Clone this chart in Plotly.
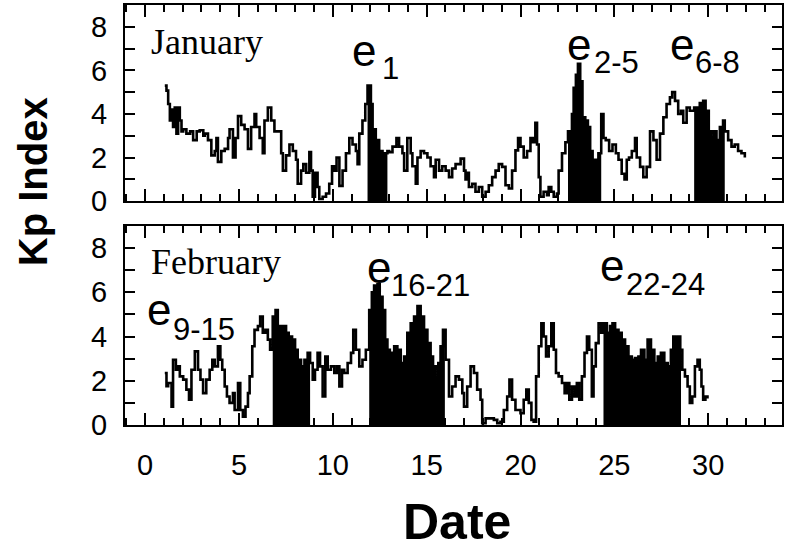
import plotly.graph_objects as go

# ---------------- data ----------------
jan_day = [1.05, 1.14, 1.23, 1.32, 1.41, 1.49, 1.58, 1.67, 1.76, 1.85, 1.94, 2.03, 2.2, 2.4, 2.56,
           2.75, 2.91, 3.1, 3.18, 3.35, 3.53, 3.71, 3.8, 3.88, 4.06, 4.24, 4.42, 4.5, 4.68, 4.82,
           4.95, 5.12, 5.3, 5.48, 5.65, 5.83, 5.92, 6.1, 6.27, 6.36, 6.54, 6.72, 6.89, 7.07, 7.25,
           7.34, 7.51, 7.69, 7.87, 8.04, 8.13, 8.31, 8.43, 8.58, 8.75, 8.84, 8.93, 9.05, 9.19, 9.28,
           9.46, 9.64, 9.81, 9.96, 10.08, 10.2, 10.35, 10.52, 10.7, 10.88, 11.05, 11.23, 11.32, 11.41,
           11.58, 11.73, 11.85, 12.03, 12.12, 12.29, 12.47, 12.65, 12.73, 12.91, 13.0, 13.18, 13.39,
           13.53, 13.71, 13.8, 13.97, 14.15, 14.24, 14.42, 14.51, 14.68, 14.86, 15.04, 15.21, 15.39,
           15.48, 15.66, 15.83, 16.01, 16.19, 16.36, 16.54, 16.81, 16.99, 17.07, 17.16, 17.25, 17.43,
           17.6, 17.78, 17.96, 18.14, 18.31, 18.49, 18.67, 18.84, 19.02, 19.2, 19.38, 19.55, 19.73,
           19.87, 20.0, 20.17, 20.35, 20.53, 20.65, 20.79, 20.88, 20.97, 21.06, 21.23, 21.41, 21.5,
           21.64, 21.77, 21.94, 22.03, 22.21, 22.39, 22.53, 22.74, 22.83, 22.95, 23.06, 23.18, 23.3,
           23.45, 23.59, 23.71, 23.84, 23.98, 24.15, 24.3, 24.42, 24.54, 24.72, 24.9, 25.08, 25.22,
           25.39, 25.54, 25.66, 25.78, 25.93, 26.1, 26.19, 26.37, 26.54, 26.72, 26.9, 27.08, 27.25,
           27.43, 27.61, 27.78, 27.96, 28.08, 28.23, 28.4, 28.55, 28.67, 28.85, 29.02, 29.25, 29.38,
           29.55, 29.73, 29.86, 30.03, 30.17, 30.31, 30.44, 30.62, 30.79, 30.88, 31.06, 31.24, 31.41,
           31.59, 31.77, 31.95]
jan_kp = [5.3, 5.07, 4.46, 3.7, 4.2, 3.4, 4.3, 3.1, 4.3, 3.7, 3.2, 3.3, 3.1, 3.2, 2.8,
          3.2, 3.25, 3.0, 3.1, 2.8, 2.1, 2.3, 2.9, 1.8, 2.3, 2.4, 2.9, 3.3, 2.0, 2.9,
          3.9, 3.5, 3.3, 2.4, 3.4, 4.0, 3.4, 2.9, 2.2, 3.7, 4.3, 3.7, 3.2, 3.2, 2.2,
          1.4, 2.1, 2.6, 2.3, 1.9, 0.8, 1.4, 1.7, 1.3, 2.25, 1.4, 0.2, 1.3, 0.65, 0.1,
          0.2, 0.35, 0.8, 1.6, 1.4, 2.0, 0.7, 1.4, 2.2, 2.9, 2.6, 2.3, 1.7, 3.1,
          3.7, 4.46, 5.3, 4.46, 3.3, 2.8, 2.3, 1.4, 2.2, 2.3, 2.25, 2.5, 2.9,
          2.5, 2.2, 1.4, 2.9, 2.2, 1.6, 0.8, 2.0, 2.3, 2.2, 2.0, 1.6, 1.1,
          1.9, 1.4, 1.6, 1.4, 1.1, 1.5, 1.7, 1.95, 1.4, 1.0, 1.3, 0.65, 0.8,
          0.43, 0.65, 0.2, 0.43, 0.73, 1.1, 1.4, 1.7, 1.57, 0.73, 0.58, 1.4, 2.33,
          2.9, 2.5, 2.0, 2.3, 2.9, 2.7, 3.6, 2.6, 1.1, 0.2, 0.43, 0.27, 0.65,
          0.43, 0.2, 0.35, 1.4, 2.2, 2.7, 3.2, 4.0, 5.2, 5.8, 6.3, 5.5, 3.85,
          3.7, 3.4, 2.3, 1.4, 1.9, 2.2, 4.0, 2.9, 2.8, 2.3, 2.6, 2.2, 1.9,
          1.26, 1.0, 1.9, 2.0, 2.3, 2.9, 2.0, 1.57, 1.1, 1.57, 3.2, 2.8, 1.9,
          3.1, 3.85, 4.46, 4.76, 5.0, 4.6, 4.0, 4.15, 3.6, 4.3, 4.15, 4.3, 4.3,
          4.5, 4.6, 4.15, 3.2, 2.9, 3.2, 2.8, 3.4, 3.7, 3.2, 2.8, 2.5, 2.6,
          2.3, 2.2, 2.0]

feb_day = [1.05, 1.14, 1.23, 1.41, 1.49, 1.64, 1.76, 1.85, 2.03, 2.2, 2.34, 2.47, 2.65, 2.82, 2.95,
           3.09, 3.26, 3.44, 3.58, 3.71, 3.88, 4.01, 4.11, 4.24, 4.36, 4.5, 4.68, 4.77, 4.95, 5.07,
           5.21, 5.35, 5.48, 5.57, 5.71, 5.83, 6.01, 6.13, 6.27, 6.41, 6.54, 6.66, 6.8, 6.95, 7.07,
           7.25, 7.37, 7.51, 7.65, 7.83, 7.99, 8.13, 8.31, 8.49, 8.66, 8.79, 8.93, 9.05, 9.19, 9.32,
           9.46, 9.6, 9.73, 9.9, 10.08, 10.22, 10.35, 10.49, 10.61, 10.79, 10.97, 11.09, 11.23, 11.41,
           11.58, 11.76, 11.94, 12.08, 12.2, 12.38, 12.5, 12.65, 12.79, 12.91, 13.04, 13.14, 13.27,
           13.44, 13.62, 13.8, 13.97, 14.15, 14.33, 14.51, 14.68, 14.86, 15.04, 15.21, 15.34, 15.48,
           15.62, 15.74, 15.87, 16.01, 16.19, 16.36, 16.54, 16.72, 16.9, 16.99, 17.16, 17.34, 17.52,
           17.69, 17.87, 17.96, 18.14, 18.4, 18.58, 18.76, 18.93, 19.11, 19.29, 19.41, 19.55, 19.73,
           20.0, 20.17, 20.31, 20.44, 20.58, 20.7, 20.83, 20.97, 21.11, 21.23, 21.36, 21.5, 21.64,
           21.77, 21.89, 22.03, 22.21, 22.35, 22.47, 22.6, 22.74, 22.88, 23.0, 23.13, 23.27, 23.41,
           23.54, 23.66, 23.8, 23.89, 24.01, 24.16, 24.3, 24.42, 24.6, 24.77, 24.9, 25.04, 25.22,
           25.39, 25.57, 25.75, 25.93, 26.1, 26.28, 26.42, 26.6, 26.77, 26.95, 27.13, 27.31, 27.48,
           27.66, 27.84, 28.01, 28.14, 28.26, 28.4, 28.51, 28.62, 28.76, 28.9, 29.02, 29.15, 29.29,
           29.43, 29.55, 29.64, 29.73, 29.85, 29.96]
feb_kp = [2.35, 1.75, 1.9, 0.83, 2.95, 2.5, 2.65, 2.2, 2.05, 1.6, 1.14, 2.5, 3.33, 2.5, 2.05,
          1.44, 2.05, 2.5, 2.95, 2.65, 3.56, 2.95, 2.5, 1.74, 1.29, 1.0, 1.44, 0.68, 1.9, 0.68,
          0.38, 0.83, 1.44, 2.2, 3.56, 4.3, 4.47, 4.9, 4.17, 4.3, 3.86, 3.4, 4.9, 5.2, 4.47,
          4.17, 4.47, 4.17, 4.0, 3.86, 3.4, 2.95, 2.65, 2.95, 3.26, 2.8, 2.05, 2.5, 3.26, 2.65,
          1.29, 3.1, 2.5, 2.65, 2.35, 2.65, 1.74, 2.5, 2.35, 2.8, 3.26, 4.3, 3.4, 2.65,
          2.95, 3.4, 5.2, 6.0, 6.3, 6.36, 5.8, 5.2, 3.86, 3.4, 2.65, 3.26, 3.56,
          3.4, 2.8, 3.1, 4.17, 4.6, 4.9, 5.38, 4.9, 4.3, 3.7, 3.1, 2.65, 2.05,
          2.8, 3.56, 4.3, 2.95, 1.29, 1.74, 2.2, 2.05, 1.44, 0.83, 1.74, 2.65, 2.35,
          1.6, 1.14, 0.08, 0.3, 0.3, 0.23, 0.08, 0.15, 0.68, 1.29, 2.05, 1.14, 0.68,
          0.53, 1.14, 1.6, 1.0, 0.23, 0.15, 2.2, 3.56, 4.6, 4.0, 3.1, 3.56, 4.6,
          3.4, 2.35, 2.2, 1.9, 1.44, 1.9, 1.14, 1.74, 1.29, 1.9, 1.14, 2.2, 3.26,
          4.0, 3.4, 1.29, 2.65, 3.7, 4.6, 4.17, 4.6, 4.17, 4.47, 4.6, 4.3, 4.17,
          3.86, 3.56, 3.1, 2.95, 3.03, 3.1, 3.4, 2.95, 3.86, 3.4, 2.8, 3.1, 3.26,
          2.8, 2.65, 3.4, 4.0, 3.4, 4.0, 3.4, 2.5, 2.2, 1.74, 1.0, 1.29, 2.65,
          2.95, 2.5, 1.74, 1.14, 1.29, 1.2]

jan_event_start = [11.85, 22.53, 29.25]
jan_event_end = [12.91, 24.3, 30.88]
feb_event_start = [6.8, 11.94, 24.42]
feb_event_end = [8.79, 15.97, 28.55]

x_tick_vals = [0, 5, 10, 15, 20, 25, 30]
y_tick_vals = [0, 2, 4, 6, 8]


def step_value(days, kp, t):
    val = kp[0]
    for d, k in zip(days, kp):
        if d <= t + 1e-9:
            val = k
    return val


def event_fill(days, kp, start, end):
    xs, ys = [start], [step_value(days, kp, start)]
    for d, k in zip(days, kp):
        if start + 1e-9 < d < end - 1e-9:
            xs.append(d)
            ys.append(k)
    xs.append(end)
    ys.append(ys[-1])
    return xs, ys


fig = go.Figure()

for days, kp, starts, ends, xa, ya in [
    (jan_day, jan_kp, jan_event_start, jan_event_end, "x", "y"),
    (feb_day, feb_kp, feb_event_start, feb_event_end, "x2", "y2"),
]:
    for s, e in zip(starts, ends):
        xs, ys = event_fill(days, kp, s, e)
        fig.add_trace(go.Scatter(x=xs, y=ys, mode="lines", line=dict(color="black", width=1, shape="hv"),
                                 fill="tozeroy", fillcolor="black", xaxis=xa, yaxis=ya,
                                 showlegend=False, hoverinfo="skip"))
    fig.add_trace(go.Scatter(x=days, y=kp, mode="lines", line=dict(color="black", width=2.6, shape="hv"),
                             xaxis=xa, yaxis=ya, showlegend=False))

tickfont = dict(family="Liberation Sans, Arial, sans-serif", size=29, color="black")
xcommon = dict(range=[-1.07, 33.93], showline=True, linecolor="black", linewidth=2, mirror="allticks",
               ticks="inside", ticklen=12, tickwidth=2, tickcolor="black", tickvals=x_tick_vals,
               minor=dict(dtick=1, tick0=0, ticks="inside", ticklen=7, tickwidth=1.5, tickcolor="black"),
               showgrid=False, zeroline=False, tickfont=tickfont)
ycommon = dict(range=[0, 9], showline=True, linecolor="black", linewidth=2, mirror="allticks",
               ticks="inside", ticklen=10, tickwidth=2, tickcolor="black", tickvals=y_tick_vals,
               minor=dict(dtick=1, tick0=0, ticks="inside", ticklen=10, tickwidth=1.5, tickcolor="black"),
               showgrid=False, zeroline=False, tickfont=tickfont, ticklabelstandoff=10)

fig.update_layout(
    width=785, height=550,
    margin=dict(l=125, r=1, t=5, b=125),
    paper_bgcolor="white", plot_bgcolor="white",
    xaxis=dict(**xcommon, domain=[0, 1], anchor="y", showticklabels=False),
    yaxis=dict(**ycommon, domain=[0.533, 1], anchor="x"),
    xaxis2=dict(**xcommon, domain=[0, 1], anchor="y2", ticklabelstandoff=13),
    yaxis2=dict(**ycommon, domain=[0, 0.474], anchor="x2"),
)

sans = "Liberation Sans, Arial, sans-serif"
serif = "Liberation Serif, Times New Roman, serif"
ann = []
# axis titles
ann.append(dict(text="<b>Kp Index</b>", x=-0.141, y=0.579, xref="paper", yref="paper", textangle=-90,
                showarrow=False, xanchor="center", yanchor="middle", font=dict(family=sans, size=40, color="black")))
ann.append(dict(text="<b>Date</b>", x=0.505, y=-0.231, xref="paper", yref="paper",
                showarrow=False, xanchor="center", yanchor="middle", font=dict(family=sans, size=50, color="black")))
# month labels
ann.append(dict(text="January", x=0.2, y=7.3, xref="x", yref="y", showarrow=False, xanchor="left",
                yanchor="middle", font=dict(family=serif, size=36, color="black")))
ann.append(dict(text="February", x=0.2, y=7.36, xref="x2", yref="y2", showarrow=False, xanchor="left",
                yanchor="middle", font=dict(family=serif, size=36, color="black")))
# event labels: (main x, main y, sub text, sub x, sub y, axis)
events = [
    (11.68, 6.9, "1", 13.05, 6.1, "x", "y"),
    (23.14, 7.2, "2-5", 25.1, 6.35, "x", "y"),
    (28.6, 7.2, "6-8", 30.5, 6.35, "x", "y"),
    (0.74, 5.2, "9-15", 3.13, 4.3, "x2", "y2"),
    (12.44, 7.1, "16-21", 15.23, 6.3, "x2", "y2"),
    (24.85, 7.2, "22-24", 27.7, 6.35, "x2", "y2"),
]
for ex, ey, sub, sx, sy, xa, ya in events:
    ann.append(dict(text="e", x=ex, y=ey, xref=xa, yref=ya, showarrow=False, xanchor="center",
                    yanchor="middle", font=dict(family=sans, size=44, color="black")))
    ann.append(dict(text=sub, x=sx, y=sy, xref=xa, yref=ya, showarrow=False, xanchor="center",
                    yanchor="middle", font=dict(family=sans, size=31, color="black")))
fig.update_layout(annotations=ann)

fig.write_html("out.html", config={"displayModeBar": False},
               post_script="document.body.style.margin='0';document.body.style.padding='0';")
